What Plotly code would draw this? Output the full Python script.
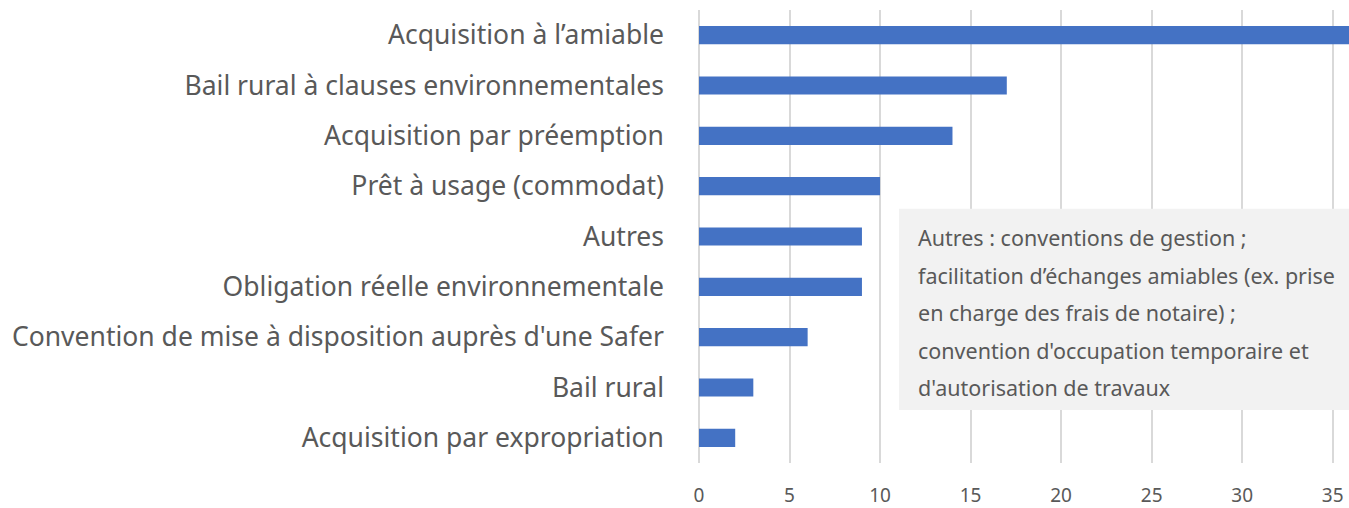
import plotly.graph_objects as go

categories = [
    "Acquisition à l’amiable",
    "Bail rural à clauses environnementales",
    "Acquisition par préemption",
    "Prêt à usage (commodat)",
    "Autres",
    "Obligation réelle environnementale",
    "Convention de mise à disposition auprès d'une Safer",
    "Bail rural",
    "Acquisition par expropriation",
]
values = [36, 17, 14, 10, 9, 9, 6, 3, 2]
tick_values = [0, 5, 10, 15, 20, 25, 30, 35]
note_lines = [
    "Autres : conventions de gestion ;",
    "facilitation d’échanges amiables (ex. prise",
    "en charge des frais de notaire) ;",
    "convention d'occupation temporaire et",
    "d'autorisation de travaux",
]

grey = "#595959"

fig = go.Figure(go.Bar(
    y=categories,
    x=values,
    orientation="h",
    width=0.36,
    marker=dict(color="#4472c4", line=dict(width=0)),
))

fig.update_layout(
    width=1349, height=508,
    margin=dict(l=699, r=0, t=10, b=45),
    plot_bgcolor="white", paper_bgcolor="white",
    font=dict(family="Noto Sans", color=grey),
    showlegend=False,
)
fig.update_yaxes(
    autorange="reversed",
    automargin=False,
    tickfont=dict(size=26.5, color=grey),
    ticklabelstandoff=34,
    showgrid=False, showline=False, ticks="",
)
fig.update_xaxes(
    range=[0, 35.9],
    automargin=False,
    tickvals=tick_values,
    tickfont=dict(size=19, color=grey),
    showgrid=True, gridcolor="#d9d9d9", gridwidth=1.5,
    zeroline=True, zerolinecolor="#d9d9d9", zerolinewidth=1.5,
    ticks="", ticklabelstandoff=19,
)

# note box
fig.add_shape(
    type="rect", xref="x", yref="paper",
    x0=11.05, x1=35.9, y0=0.117, y1=0.561,
    fillcolor="#f2f2f2", line=dict(width=0), layer="above",
)
top = 0.497
step = 37.5 / 453
for i, line in enumerate(note_lines):
    fig.add_annotation(
        xref="x", yref="paper",
        x=12.0, y=top - i * step,
        text=line, showarrow=False,
        xanchor="left", yanchor="middle",
        font=dict(size=21.5, color=grey),
    )

# page has a default 8px body margin; drop it so the figure fills the window
fig.write_html(
    "out.html",
    config={"displayModeBar": False},
    post_script="document.body.style.margin='0';",
)
